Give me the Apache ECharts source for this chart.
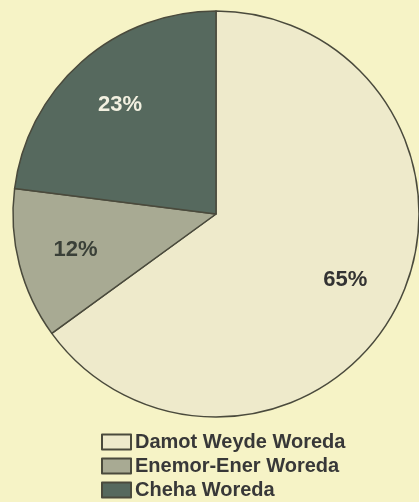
<!DOCTYPE html>
<html>
<head>
<meta charset="utf-8">
<script src="https://cdn.jsdelivr.net/npm/echarts@6/dist/echarts.min.js"></script>
<style>
html,body{margin:0;padding:0;background:#f6f3c6;}
#c{width:419px;height:502px;}
</style>
</head>
<body>
<div id="c"></div>
<script>
var categories = ['Damot Weyde Woreda', 'Enemor-Ener Woreda', 'Cheha Woreda'];
var values = [65, 12, 23];
var colors = ['#eeeacb', '#a8aa93', '#56695e'];
var labelColors = ['#333333', '#3a4038', '#f2f0e0'];

var data = categories.map(function (n, i) {
  return { name: n, value: values[i], itemStyle: { color: colors[i] } };
});
var labelData = categories.map(function (n, i) {
  return { name: n, value: values[i], label: { color: labelColors[i] } };
});

var chart = echarts.init(document.getElementById('c'), null, { renderer: 'canvas' });
chart.setOption({
  backgroundColor: '#f6f3c6',
  animation: false,
  legend: {
    orient: 'vertical',
    left: 101,
    top: 432,
    height: 90,
    width: 300,
    padding: 0,
    itemWidth: 29,
    itemHeight: 15,
    itemGap: 4,
    icon: 'rect',
    data: categories,
    textStyle: {
      fontFamily: 'Liberation Sans, Arial, sans-serif',
      fontSize: 20,
      fontWeight: 'bold',
      color: '#383838',
      lineHeight: 19,
      padding: [0, 0, 0, -1]
    },
    selectedMode: false
  },
  series: [
    {
      type: 'pie',
      center: [216, 214],
      radius: [0, 203],
      startAngle: 90,
      clockwise: true,
      label: { show: false },
      labelLine: { show: false },
      itemStyle: { borderColor: '#4a4a3c', borderWidth: 1.5 },
      emphasis: { disabled: true },
      data: data
    },
    {
      type: 'pie',
      center: [216, 214],
      radius: [81, 203],
      startAngle: 90,
      clockwise: true,
      silent: true,
      legendHoverLink: false,
      itemStyle: { color: 'rgba(0,0,0,0)', borderWidth: 0 },
      label: {
        show: true,
        position: 'inside',
        formatter: '{c}%',
        fontFamily: 'Liberation Sans, Arial, sans-serif',
        fontSize: 22,
        fontWeight: 'bold'
      },
      labelLine: { show: false },
      emphasis: { disabled: true },
      data: labelData
    }
  ]
});
</script>
</body>
</html>
